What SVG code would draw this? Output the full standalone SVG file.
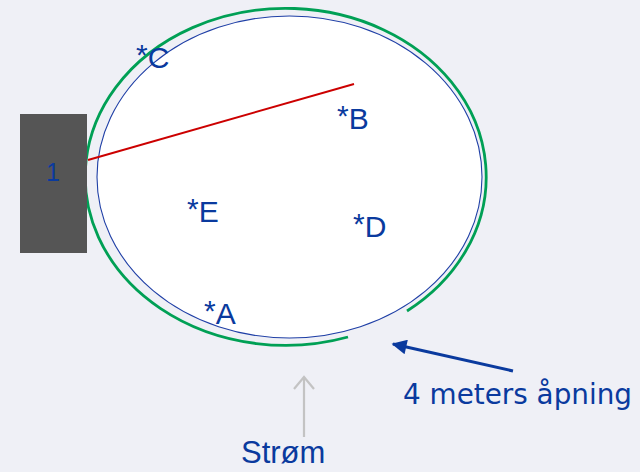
<svg xmlns="http://www.w3.org/2000/svg" width="640" height="472" viewBox="0 0 640 472">
<defs>
<style>
.lbl{font-family:"Liberation Sans",Arial,sans-serif;font-size:30px;fill:#0a3a9e}
.num{font-family:"Liberation Sans",Arial,sans-serif;font-size:25px;fill:#0a3a9e}
.cur{font-family:"Liberation Sans",Arial,sans-serif;font-size:31px;fill:#0a3a9e}
.note{font-family:"DejaVu Sans","Liberation Sans",sans-serif;font-size:28px;fill:#0a3a9e}
</style>
<marker id="blueHead" viewBox="0 0 10 10" refX="9" refY="5" markerWidth="6" markerHeight="5" markerUnits="strokeWidth" orient="auto">
<path d="M0 0 L10 5 L0 10 Z" fill="#0a3a9e"/>
</marker>
</defs>
<rect x="0" y="0" width="640" height="472" fill="#eff0f6"/>
<g id="pond">
<ellipse cx="289.5" cy="177" rx="192.5" ry="161" fill="#ffffff" stroke="#1f3fa6" stroke-width="1.1"/>
</g>
<g id="net">
<path d="M348 337 A200.5 168.5 0 1 1 407 311" fill="none" stroke="#00a055" stroke-width="2.8"/>
</g>
<g id="block1">
<rect x="20" y="114" width="67" height="139" fill="#555555"/>
<text class="num" x="53" y="181" text-anchor="middle">1</text>
</g>
<g id="pointC"><text class="lbl" x="136" y="68"><tspan dy="-3">*</tspan><tspan dy="3">C</tspan></text></g>
<g id="pointB"><text class="lbl" x="337" y="129"><tspan dy="-3">*</tspan><tspan dy="3">B</tspan></text></g>
<g id="pointE"><text class="lbl" x="187" y="222"><tspan dy="-3">*</tspan><tspan dy="3">E</tspan></text></g>
<g id="pointD"><text class="lbl" x="353" y="237"><tspan dy="-3">*</tspan><tspan dy="3">D</tspan></text></g>
<g id="pointA"><text class="lbl" x="204" y="324"><tspan dy="-3">*</tspan><tspan dy="3">A</tspan></text></g>
<g id="connectors">
<line x1="88" y1="160" x2="354" y2="84" stroke="#cc0000" stroke-width="2"/>
<line x1="513" y1="371" x2="393" y2="344" stroke="#0a3a9e" stroke-width="3" marker-end="url(#blueHead)"/>
<line x1="304" y1="437" x2="304" y2="377" stroke="#c3c3c3" stroke-width="2.2"/>
<polyline points="294,389 304,377 314,389" fill="none" stroke="#c3c3c3" stroke-width="2.2"/>
</g>
<g id="labelOpening"><text class="note" x="403" y="404" textLength="229" lengthAdjust="spacingAndGlyphs">4 meters åpning</text></g>
<g id="labelCurrent"><text class="cur" x="241" y="463">Strøm</text></g>
</svg>
